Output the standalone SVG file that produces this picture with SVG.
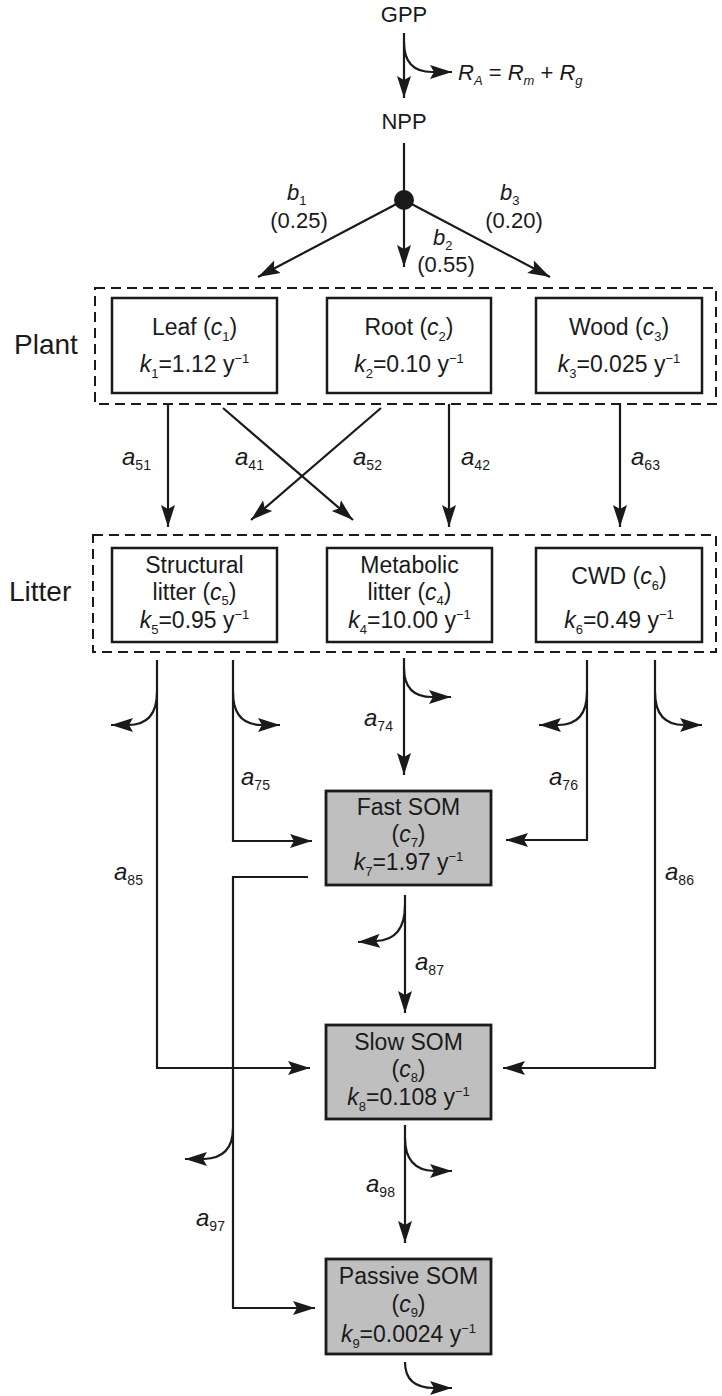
<svg xmlns="http://www.w3.org/2000/svg" width="722" height="1396" viewBox="0 0 722 1396">
<style>
text{font-family:"Liberation Sans",Arial,sans-serif;fill:#1a1a1a;font-size:22px}
.m{text-anchor:middle}
.bt{font-size:23px}
.i{font-style:italic}
.s{font-size:13px}
.al{font-size:24px}
.al .s{font-size:14px}
.big{font-size:28px}
.box{fill:#fff;stroke:#1a1a1a;stroke-width:2.5}
.som{fill:#bfbfbf;stroke:#1a1a1a;stroke-width:2.8}
.dash{fill:none;stroke:#1a1a1a;stroke-width:2;stroke-dasharray:10 6}
.c{fill:none;stroke:#1a1a1a;stroke-width:2.2}
.c path{marker-end:url(#ah)}
</style>
<defs>
<marker id="ah" viewBox="-22 -8 23 16" refX="0" refY="0" markerWidth="23" markerHeight="16" markerUnits="userSpaceOnUse" orient="auto">
<path d="M0,0 L-22,-7 L-18,0 L-22,7 Z" fill="#1a1a1a"/>
</marker>
</defs>
<rect width="722" height="1396" fill="#fff"/>

<g id="gpp"><text class="m" x="404" y="22">GPP</text></g>
<g id="ra"><text x="458" y="80"><tspan class="i">R</tspan><tspan class="s i" dy="5">A</tspan><tspan dy="-5"> = </tspan><tspan class="i">R</tspan><tspan class="s i" dy="5">m</tspan><tspan dy="-5"> + </tspan><tspan class="i">R</tspan><tspan class="s i" dy="5">g</tspan></text></g>
<g id="npp"><text class="m" x="404" y="129">NPP</text></g>
<g id="split"><circle cx="404" cy="200" r="10" fill="#1a1a1a"/></g>

<g id="plant-group">
<rect class="dash" x="95" y="288" width="621" height="116"/>
<text class="big" x="14" y="354">Plant</text>
</g>
<g id="leaf"><rect class="box" x="112" y="298" width="165" height="95"/>
<text class="m bt" x="194.5" y="335">Leaf (<tspan class="i">c</tspan><tspan class="s" dy="6">1</tspan><tspan dy="-6">)</tspan></text>
<text class="m bt" x="194.5" y="372"><tspan class="i">k</tspan><tspan class="s" dy="6">1</tspan><tspan dy="-6">=1.12 y</tspan><tspan class="s" dy="-9">−1</tspan></text></g>
<g id="root"><rect class="box" x="327" y="298" width="164" height="95"/>
<text class="m bt" x="409" y="335">Root (<tspan class="i">c</tspan><tspan class="s" dy="6">2</tspan><tspan dy="-6">)</tspan></text>
<text class="m bt" x="409" y="372"><tspan class="i">k</tspan><tspan class="s" dy="6">2</tspan><tspan dy="-6">=0.10 y</tspan><tspan class="s" dy="-9">−1</tspan></text></g>
<g id="wood"><rect class="box" x="536" y="298" width="166" height="95"/>
<text class="m bt" x="619" y="335">Wood (<tspan class="i">c</tspan><tspan class="s" dy="6">3</tspan><tspan dy="-6">)</tspan></text>
<text class="m bt" x="619" y="372"><tspan class="i">k</tspan><tspan class="s" dy="6">3</tspan><tspan dy="-6">=0.025 y</tspan><tspan class="s" dy="-9">−1</tspan></text></g>

<g id="litter-group">
<rect class="dash" x="93" y="535" width="623" height="117"/>
<text class="big" x="9" y="601">Litter</text>
</g>
<g id="structural"><rect class="box" x="112" y="548" width="165" height="94"/>
<text class="m bt" x="194.5" y="573">Structural</text>
<text class="m bt" x="194.5" y="600">litter (<tspan class="i">c</tspan><tspan class="s" dy="5">5</tspan><tspan dy="-5">)</tspan></text>
<text class="m bt" x="194.5" y="628"><tspan class="i">k</tspan><tspan class="s" dy="6">5</tspan><tspan dy="-6">=0.95 y</tspan><tspan class="s" dy="-9">−1</tspan></text></g>
<g id="metabolic"><rect class="box" x="327" y="548" width="165" height="94"/>
<text class="m bt" x="409.5" y="573">Metabolic</text>
<text class="m bt" x="409.5" y="600">litter (<tspan class="i">c</tspan><tspan class="s" dy="5">4</tspan><tspan dy="-5">)</tspan></text>
<text class="m bt" x="409.5" y="628"><tspan class="i">k</tspan><tspan class="s" dy="6">4</tspan><tspan dy="-6">=10.00 y</tspan><tspan class="s" dy="-9">−1</tspan></text></g>
<g id="cwd"><rect class="box" x="536" y="548" width="166" height="94"/>
<text class="m bt" x="619" y="584">CWD (<tspan class="i">c</tspan><tspan class="s" dy="6">6</tspan><tspan dy="-6">)</tspan></text>
<text class="m bt" x="619" y="628"><tspan class="i">k</tspan><tspan class="s" dy="6">6</tspan><tspan dy="-6">=0.49 y</tspan><tspan class="s" dy="-9">−1</tspan></text></g>

<g id="fast"><rect class="som" x="326" y="791" width="165" height="94"/>
<text class="m bt" x="408.5" y="815">Fast SOM</text>
<text class="m bt" x="408.5" y="842">(<tspan class="i">c</tspan><tspan class="s" dy="5">7</tspan><tspan dy="-5">)</tspan></text>
<text class="m bt" x="408.5" y="870"><tspan class="i">k</tspan><tspan class="s" dy="6">7</tspan><tspan dy="-6">=1.97 y</tspan><tspan class="s" dy="-9">−1</tspan></text></g>
<g id="slow"><rect class="som" x="326" y="1025" width="165" height="94"/>
<text class="m bt" x="408.5" y="1050">Slow SOM</text>
<text class="m bt" x="408.5" y="1077">(<tspan class="i">c</tspan><tspan class="s" dy="5">8</tspan><tspan dy="-5">)</tspan></text>
<text class="m bt" x="408.5" y="1105"><tspan class="i">k</tspan><tspan class="s" dy="6">8</tspan><tspan dy="-6">=0.108 y</tspan><tspan class="s" dy="-9">−1</tspan></text></g>
<g id="passive"><rect class="som" x="326" y="1259" width="165" height="95"/>
<text class="m bt" x="408.5" y="1284">Passive SOM</text>
<text class="m bt" x="408.5" y="1312">(<tspan class="i">c</tspan><tspan class="s" dy="5">9</tspan><tspan dy="-5">)</tspan></text>
<text class="m bt" x="408.5" y="1342"><tspan class="i">k</tspan><tspan class="s" dy="6">9</tspan><tspan dy="-6">=0.0024 y</tspan><tspan class="s" dy="-9">−1</tspan></text></g>

<g id="connectors" class="c">
<path d="M404,33 L404,98"/>
<path d="M404,42 Q404,72 432,72 L452,72"/>
<line x1="404" y1="143" x2="404" y2="192"/>
<path d="M404,200 L258,277"/>
<path d="M404,200 L404,267"/>
<path d="M404,200 L550,277"/>
<path d="M168,404 L168,527"/>
<path d="M223,408 L353,520"/>
<path d="M381,408 L251,520"/>
<path d="M449,404 L449,527"/>
<path d="M620,404 L620,527"/>
<path d="M157,660 L157,1068 L310,1068"/>
<path d="M157,692 Q157,725 128,725 L111,725"/>
<path d="M233,660 L233,841 L312,841"/>
<path d="M233,692 Q233,725 262,725 L280,725"/>
<path d="M404,658 L404,775"/>
<path d="M404,668 Q404,697 432,697 L451,697"/>
<path d="M587,660 L587,840 L506,840"/>
<path d="M587,692 Q587,725 558,725 L539,725"/>
<path d="M655,660 L655,1068 L503,1068"/>
<path d="M655,692 Q655,725 684,725 L702,725"/>
<path d="M308,877 L233,877 L233,1308 L315,1308"/>
<path d="M233,1128 Q233,1158 204,1159 L185,1159"/>
<path d="M405,895 L405,1013"/>
<path d="M405,905 Q405,940 376,941 L358,942"/>
<path d="M405,1125 L405,1243"/>
<path d="M405,1138 Q405,1170 434,1171 L452,1171"/>
<path d="M405,1362 Q405,1388 434,1388 L452,1388"/>
</g>

<g id="labels">
<text x="287" y="200"><tspan class="i">b</tspan><tspan class="s" dy="5">1</tspan></text>
<text class="m" x="299" y="228">(0.25)</text>
<text x="433" y="245"><tspan class="i">b</tspan><tspan class="s" dy="5">2</tspan></text>
<text class="m" x="446" y="272">(0.55)</text>
<text x="500" y="200"><tspan class="i">b</tspan><tspan class="s" dy="5">3</tspan></text>
<text class="m" x="514" y="228">(0.20)</text>
<text class="al" x="122" y="465"><tspan class="i">a</tspan><tspan class="s" dy="5">51</tspan></text>
<text class="al" x="235" y="465"><tspan class="i">a</tspan><tspan class="s" dy="5">41</tspan></text>
<text class="al" x="353" y="465"><tspan class="i">a</tspan><tspan class="s" dy="5">52</tspan></text>
<text class="al" x="461" y="465"><tspan class="i">a</tspan><tspan class="s" dy="5">42</tspan></text>
<text class="al" x="631" y="465"><tspan class="i">a</tspan><tspan class="s" dy="5">63</tspan></text>
<text class="al" x="364" y="726"><tspan class="i">a</tspan><tspan class="s" dy="5">74</tspan></text>
<text class="al" x="241" y="785"><tspan class="i">a</tspan><tspan class="s" dy="5">75</tspan></text>
<text class="al" x="549" y="785"><tspan class="i">a</tspan><tspan class="s" dy="5">76</tspan></text>
<text class="al" x="114" y="880"><tspan class="i">a</tspan><tspan class="s" dy="5">85</tspan></text>
<text class="al" x="665" y="880"><tspan class="i">a</tspan><tspan class="s" dy="5">86</tspan></text>
<text class="al" x="415" y="970"><tspan class="i">a</tspan><tspan class="s" dy="5">87</tspan></text>
<text class="al" x="196" y="1226"><tspan class="i">a</tspan><tspan class="s" dy="5">97</tspan></text>
<text class="al" x="366" y="1192"><tspan class="i">a</tspan><tspan class="s" dy="5">98</tspan></text>
</g>
</svg>
